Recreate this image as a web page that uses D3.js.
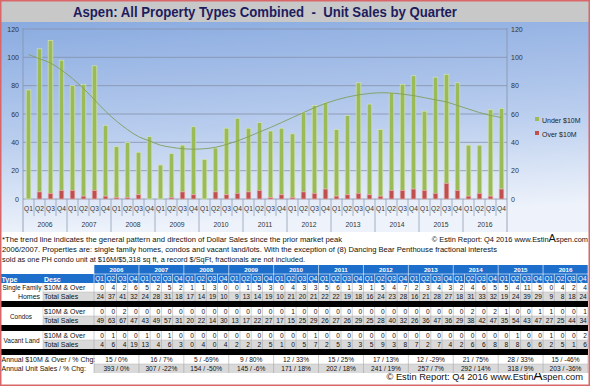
<!DOCTYPE html>
<html><head><meta charset="utf-8">
<script src="https://cdn.jsdelivr.net/npm/d3@7/dist/d3.min.js"></script>
<style>body{margin:0;background:#fff}svg{display:block}text{font-family:"Liberation Sans",Arial,sans-serif}</style>
</head><body>
<svg id="c" width="590" height="386"></svg>
<script>
const years = ["2006","2007","2008","2009","2010","2011","2012","2013","2014","2015","2016"];
const quarters = ["Q1","Q2","Q3","Q4"];
// chart series (units per quarter)
const under10 = [77,101,108,92, 74,79,88,50, 36,39,30,44, 24,31,33,48, 28,31,47,53, 45,48,47,47, 45,56,62,61, 47,56,78,64, 47,69,75,80, 56,82,77,76, 36,34,61,57];
const over10  = [0,5,4,6, 6,2,6,2, 1,1,3,0, 0,1,5,3, 0,5,3,4, 5,6,1,3, 1,5,4,7, 2,3,4,3, 2,6,6,7, 6,4,11,6, 2,4,2,7];
const trend   = [102,99,96,91, 85,78,70,62, 55,49,44,41, 38,36.5,35.5,35.2, 35.5,36.5,38.5,41, 44,47.3,50.5,54, 57.5,61,64.5,67.5, 70,72,73.5,74.5, 75,74.8,74,73, 71.5,70,68.5,66, 63.5,61,59,57.5];
const yTicks = [0,20,40,60,80,100,120];
// table
const sfhOver   = [0,4,2,6, 5,2,5,2, 1,1,3,0, 0,1,5,3, 0,4,3,3, 5,6,1,3, 1,5,4,7, 2,3,4,3, 2,4,6,5, 5,4,11,5, 0,4,2,4];
const sfhTotal  = [24,37,41,32, 24,28,31,18, 17,14,19,10, 9,13,14,19, 10,21,20,21, 22,22,19,18, 16,24,23,28, 16,21,28,27, 18,31,33,32, 19,24,39,29, 9,8,18,24];
const condoOver = [0,0,2,0, 0,0,0,0, 0,0,0,0, 0,0,0,0, 0,1,0,0, 0,0,0,0, 0,0,0,0, 0,0,0,0, 0,2,0,2, 1,0,0,1, 1,0,0,1];
const condoTotal= [49,63,67,47, 43,49,57,31, 20,22,14,30, 13,17,22,27, 17,15,25,29, 26,27,26,29, 25,28,40,32, 26,36,47,36, 29,38,42,47, 35,54,43,47, 27,25,44,34];
const landOver  = [0,1,0,0, 1,0,1,0, 0,0,0,0, 0,0,0,0, 0,0,0,1, 0,0,0,0, 0,0,0,0, 0,0,0,0, 0,0,0,0, 0,1,0,0, 1,0,0,2];
const landTotal = [4,6,4,19, 13,4,6,3, 0,4,0,4, 2,2,2,5, 1,0,5,7, 2,5,3,3, 5,9,3,8, 7,2,7,4, 2,6,6,8, 8,8,6,6, 2,5,1,6];
const annualOver  = ["15 / 0%","16 / 7%","5 / -69%","9 / 80%","12 / 33%","15 / 25%","17 / 13%","12 / -29%","21 / 75%","28 / 33%","15 / -46%"];
const annualUnits = ["393 / 0%","307 / -22%","154 / -50%","145 / -6%","171 / 18%","202 / 18%","241 / 19%","257 / 7%","292 / 14%","318 / 9%","203 / -36%"];

const svg = d3.select("#c");
const defs = svg.append("defs");
const grad = defs.append("linearGradient").attr("id","bg").attr("x1",0).attr("y1",0).attr("x2",0.15).attr("y2",1);
grad.append("stop").attr("offset","0%").attr("stop-color","#8aabe0");
grad.append("stop").attr("offset","55%").attr("stop-color","#b9cdee");
grad.append("stop").attr("offset","100%").attr("stop-color","#eef3fb");

svg.append("rect").attr("x",0).attr("y",0).attr("width",590).attr("height",386).attr("fill","#fff");
// title band
svg.append("rect").attr("x",1).attr("y",1).attr("width",588).attr("height",21).attr("fill","#c8c8c8");
svg.append("text").attr("x",265).attr("y",17).attr("text-anchor","middle").style("white-space","pre")
  .attr("font-family","Lato, 'Open Sans', sans-serif").attr("font-weight","bold").attr("font-size",15)
  .attr("fill","#1d1d5e").attr("textLength",384).attr("lengthAdjust","spacingAndGlyphs")
  .text("Aspen: All Property Types Combined  -  Unit Sales by Quarter");
// chart background
svg.append("rect").attr("x",1).attr("y",22).attr("width",588).attr("height",210).attr("fill","url(#bg)");

const idx = d3.range(44);
const x = d3.scaleBand().domain(idx).range([23,507]).paddingInner(0.58).paddingOuter(0.29);
const xs = d3.scaleBand().domain(idx).range([23,507]);
const y = d3.scaleLinear().domain([0,120]).range([199,29]);

// gridlines
svg.append("g").selectAll("line").data(yTicks).join("line")
  .attr("x1",23).attr("x2",507).attr("y1",d=>y(d)).attr("y2",d=>y(d))
  .attr("stroke","#8592aa").attr("stroke-width",0.8);
[23,507].forEach(px=>svg.append("line").attr("x1",px).attr("x2",px).attr("y1",28).attr("y2",232).attr("stroke","#8592aa").attr("stroke-width",0.8));

const gl = svg.append("g").attr("transform","translate(20,0)").call(d3.axisLeft(y).tickValues(yTicks).tickSize(0).tickPadding(1));
const gr = svg.append("g").attr("transform","translate(510,0)").call(d3.axisRight(y).tickValues(yTicks).tickSize(0).tickPadding(1));
[gl,gr].forEach(g=>{g.select(".domain").remove();g.selectAll("text").attr("font-size",7).attr("fill","#333").attr("font-family","'Liberation Sans',Arial,sans-serif");});

// bars
const bars = svg.append("g");
bars.selectAll("rect.u").data(idx).join("rect").attr("class","u")
  .attr("x",d=>x(d)).attr("width",x.bandwidth())
  .attr("y",d=>y(under10[d]+over10[d])).attr("height",d=>y(over10[d])-y(under10[d]+over10[d]))
  .attr("fill","#9bbb59").attr("stroke","#d3e4b4").attr("stroke-width",0.7);
bars.selectAll("rect.o").data(idx.filter(d=>over10[d]>0)).join("rect").attr("class","o")
  .attr("x",d=>x(d)).attr("width",x.bandwidth())
  .attr("y",d=>y(over10[d])).attr("height",d=>y(0)-y(over10[d]))
  .attr("fill","#c0504d").attr("stroke","#e6a9a7").attr("stroke-width",0.7);

// trend
svg.append("path").datum(idx)
  .attr("d",d3.line().x(d=>xs(d)+xs.bandwidth()/2).y(d=>y(trend[d])).curve(d3.curveCatmullRom))
  .attr("fill","none").attr("stroke","#7f9e5c").attr("stroke-width",0.9);

// category axis
const cat = svg.append("g");
cat.selectAll("text.q").data(idx).join("text").attr("class","q")
  .attr("x",d=>xs(d)+xs.bandwidth()/2).attr("y",211).attr("text-anchor","middle")
  .attr("font-size",6.6).attr("fill","#333").text(d=>quarters[d%4]);
cat.selectAll("text.yr").data(years).join("text").attr("class","yr")
  .attr("x",(d,i)=>xs(i*4)+xs.bandwidth()*2).attr("y",227).attr("text-anchor","middle")
  .attr("font-size",6.8).attr("fill","#333").text(d=>d);
cat.selectAll("line.s").data(d3.range(1,44)).join("line").attr("class","s")
  .attr("x1",d=>xs(d)).attr("x2",d=>xs(d)).attr("y1",199).attr("y2",d=>d%4===0?232:216)
  .attr("stroke","#8592aa").attr("stroke-width",0.7);

// legend
const leg = [["Under $10M","#9bbb59"],["Over $10M","#c0504d"]];
leg.forEach((l,i)=>{
  svg.append("rect").attr("x",535).attr("y",117+i*14).attr("width",4).attr("height",4).attr("fill",l[1]);
  svg.append("text").attr("x",542).attr("y",122.5+i*14).attr("font-size",7).attr("fill","#222").text(l[0]);
});

// notes
const notes = [
  ["*The trend line indicates the general pattern and direction of Dollar Sales since the prior market peak",342],
  ["2006/2007. Properties are: single family homes, condos and vacant land/lots. With the exception of (8) Dancing Bear Penthouse fractional interests",497],
  ["sold as one PH condo unit at $16M/$5,318 sq ft, a record $/SqFt, fractionals are not included.",305]
];
notes.forEach((n,i)=>svg.append("text").attr("x",2).attr("y",242+i*9.8).attr("font-size",7.4).attr("fill","#111")
  .attr("textLength",n[1]-2).attr("lengthAdjust","spacingAndGlyphs").text(n[0]));
function copy(xEnd,yb,fs,big){
  const t = svg.append("text").attr("x",xEnd).attr("y",yb).attr("text-anchor","end").attr("font-size",fs).attr("fill","#111");
  t.append("tspan").text("© Estin Report: Q4 2016 www.Estin");
  t.append("tspan").attr("font-size",big).text("A");
  t.append("tspan").text("spen.com");
}
copy(588,242,7.4,11);
copy(583,380,9.3,14);

// table
const T = svg.append("g");
const c0 = 94, cw = (588-94)/44;
const cx = i=>c0+i*cw;
const blue = "#1e6fcc";
T.append("rect").attr("x",c0).attr("y",265).attr("width",588-c0).attr("height",9).attr("fill",blue);
T.append("rect").attr("x",1).attr("y",274).attr("width",587).attr("height",9).attr("fill",blue);
T.selectAll("text.hy").data(years).join("text").attr("x",(d,i)=>cx(i*4)+cw*2).attr("y",272).attr("text-anchor","middle")
  .attr("font-size",6.2).attr("font-weight","bold").attr("fill","#fff").text(d=>d);
T.selectAll("text.hq").data(idx).join("text").attr("x",d=>cx(d)+cw/2).attr("y",281.3).attr("text-anchor","middle")
  .attr("font-size",6.4).attr("fill","#fff").text(d=>quarters[d%4]);
T.append("text").attr("x",1.5).attr("y",281.5).attr("font-size",7).attr("font-weight","bold").attr("fill","#fff").text("Type");
T.append("text").attr("x",44).attr("y",281.5).attr("font-size",7).attr("font-weight","bold").attr("fill","#fff").text("Desc");
T.selectAll("line.hl").data(d3.range(0,45)).join("line").attr("x1",d=>cx(d)).attr("x2",d=>cx(d))
  .attr("y1",d=>d%4===0?265:274).attr("y2",283).attr("stroke","#fff").attr("stroke-width",0.6);
T.append("line").attr("x1",c0).attr("x2",588).attr("y1",274).attr("y2",274).attr("stroke","#fff").attr("stroke-width",0.6);

const groups = [
  {label:["Single Family","Homes"], y:283, over:sfhOver, total:sfhTotal},
  {label:["Condos"], y:307, over:condoOver, total:condoTotal},
  {label:["Vacant Land"], y:331, over:landOver, total:landTotal}
];
groups.forEach(g=>{
  T.append("rect").attr("x",43).attr("y",g.y+9).attr("width",545).attr("height",9).attr("fill","#d9d9d9");
  T.append("text").attr("x",44).attr("y",g.y+7).attr("font-size",7).attr("fill","#111").text("$10M & Over");
  T.append("text").attr("x",44).attr("y",g.y+16).attr("font-size",7).attr("fill","#111").text("Total Sales");
  if(g.label.length===2){
    T.append("text").attr("x",22).attr("y",g.y+7).attr("text-anchor","middle").attr("font-size",7).attr("fill","#111")
      .attr("textLength",39).attr("lengthAdjust","spacingAndGlyphs").text(g.label[0]);
    T.append("text").attr("x",29).attr("y",g.y+16).attr("text-anchor","middle").attr("font-size",7).attr("fill","#111").text(g.label[1]);
  } else {
    T.append("text").attr("x",g.label[0]==="Condos"?21:21.5).attr("y",g.y+11.5).attr("text-anchor","middle").attr("font-size",7).attr("fill","#111")
      .attr("textLength",g.label[0]==="Condos"?22:36).attr("lengthAdjust","spacingAndGlyphs").text(g.label[0]);
  }
  [g.over,g.total].forEach((arr,r)=>{
    T.append("g").selectAll("text").data(idx).join("text").attr("x",d=>cx(d)+cw-1.2).attr("y",g.y+7+r*9)
      .attr("text-anchor","end").attr("font-size",6.6).attr("fill","#111").text(d=>arr[d]);
  });
  T.append("g").selectAll("line").data(d3.range(0,45)).join("line").attr("x1",d=>cx(d)).attr("x2",d=>cx(d))
    .attr("y1",g.y).attr("y2",g.y+18).attr("stroke","#9a9a9a").attr("stroke-width",0.5);
  T.append("line").attr("x1",43).attr("x2",588).attr("y1",g.y+9).attr("y2",g.y+9).attr("stroke","#b5b5b5").attr("stroke-width",0.5);
  T.append("line").attr("x1",43).attr("x2",43).attr("y1",g.y).attr("y2",g.y+18).attr("stroke","#b5b5b5").attr("stroke-width",0.5);
  T.append("rect").attr("x",1).attr("y",g.y+18).attr("width",587).attr("height",6).attr("fill","#000");
});
// annual rows
T.append("rect").attr("x",c0).attr("y",364).attr("width",588-c0).attr("height",9).attr("fill","#d9d9d9");
T.append("text").attr("x",1.5).attr("y",362).attr("font-size",7).attr("fill","#111").text("Annual $10M & Over / % Chg:");
T.append("text").attr("x",1.5).attr("y",371).attr("font-size",7).attr("fill","#111").text("Annual Unit Sales / % Chg:");
[annualOver,annualUnits].forEach((arr,r)=>{
  T.append("g").selectAll("text").data(arr).join("text").attr("x",(d,i)=>cx(i*4)+cw*2).attr("y",362+r*9)
    .attr("text-anchor","middle").attr("font-size",6.6).attr("fill","#111").text(d=>d);
});
T.append("g").selectAll("line").data(d3.range(0,12)).join("line").attr("x1",d=>cx(d*4)).attr("x2",d=>cx(d*4))
  .attr("y1",355).attr("y2",373).attr("stroke","#9a9a9a").attr("stroke-width",0.5);
T.append("line").attr("x1",c0).attr("x2",588).attr("y1",364).attr("y2",364).attr("stroke","#b5b5b5").attr("stroke-width",0.5);

// outer frame
svg.append("rect").attr("x",0.75).attr("y",0.75).attr("width",588.5).attr("height",384.5).attr("fill","none").attr("stroke","#d9676a").attr("stroke-width",1.5);
</script>
</body></html>
